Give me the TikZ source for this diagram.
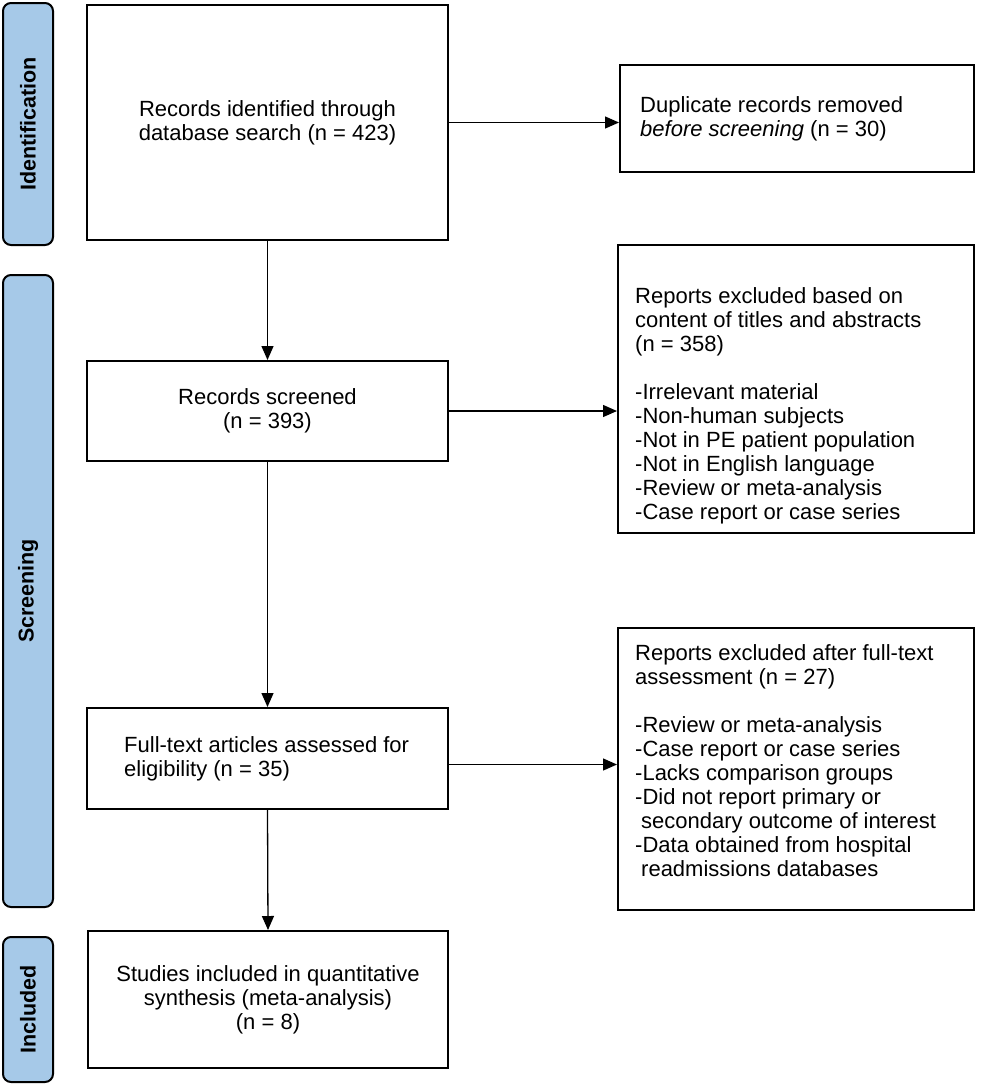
\documentclass[tikz,border=0pt]{standalone}
\usepackage{fontspec}
\setmainfont{Liberation Sans}
\usetikzlibrary{arrows.meta}
\definecolor{labelblue}{RGB}{166,201,232}
\begin{document}
\begin{tikzpicture}[x=1pt,y=-1pt,
  every node/.style={font=\fontsize{22pt}{24pt}\selectfont},
  box/.style={draw=black, line width=2pt, inner sep=0pt, align=center},
  stage/.style={draw=black, line width=2pt, fill=labelblue, rounded corners=8pt, minimum width=50pt, inner sep=0pt},
  stagetext/.style={font=\fontsize{21.5pt}{24pt}\selectfont\bfseries, rotate=90, inner sep=0pt},
  arr/.style={line width=1.3pt, -{Triangle[length=14pt,width=12pt]}},
  txt/.style={inner sep=0pt, align=left, anchor=north west}
]
\useasboundingbox (0,0) rectangle (981,1085);
\fill[white] (0,0) rectangle (981,1085);

% stage labels
\node[stage, minimum height=242pt] (id) at (28,124) {};
\node[stagetext] (idt) at (id.center) {Identification};
\node[stage, minimum height=632pt] (sc) at (28,591) {};
\node[stagetext] (sct) at (sc.center) {Screening};
\node[stage, minimum height=145pt] (inc) at (28,1009.5) {};
\node[stagetext] (inct) at (inc.center) {Included};

% main boxes
\node[box, minimum width=361pt, minimum height=235pt] (rec) at (267.5,122.5)
  {Records identified through\\database search (n = 423)};
\node[box, minimum width=354pt, minimum height=107pt] (dup) at (797,118.5) {};
\node[txt, anchor=west] (dupt) at (640,118.5)
  {Duplicate records removed\\\textit{before screening} (n = 30)};

\node[box, minimum width=361pt, minimum height=100pt] (scr) at (267.5,411)
  {Records screened\\(n = 393)};
\node[box, minimum width=356pt, minimum height=288pt] (rep1) at (796,389) {};
\node[txt] (rep1t) at (635,287)
  {Reports excluded based on\\content of titles and abstracts\\(n = 358)\\[24pt]
   -Irrelevant material\\-Non-human subjects\\-Not in PE patient population\\
   -Not in English language\\-Review or meta-analysis\\-Case report or case series};

\node[box, minimum width=361pt, minimum height=101pt] (ft) at (267.5,758.5) {};
\node[txt, anchor=west] (ftt) at (124,758.5)
  {Full-text articles assessed for\\eligibility (n = 35)};
\node[box, minimum width=356pt, minimum height=282pt] (rep2) at (796,769) {};
\node[txt] (rep2t) at (635,644)
  {Reports excluded after full-text\\assessment (n = 27)\\[24pt]
   -Review or meta-analysis\\-Case report or case series\\-Lacks comparison groups\\
   -Did not report primary or\\\hspace*{6pt}secondary outcome of interest\\
   -Data obtained from hospital\\\hspace*{6pt}readmissions databases};

\node[box, minimum width=360pt, minimum height=137pt] (stu) at (268,999.5)
  {Studies included in quantitative\\synthesis (meta-analysis)\\(n = 8)};

% connectors
\draw[arr] (rec.south) -- (scr.north);
\draw[arr] (scr.south) -- (ft.north);
\draw[arr] (ft.south) -- (stu.north);
\draw[arr] (rec.east) -- (rec.east -| dup.west);
\draw[arr] (scr.east) -- (scr.east -| rep1.west);
\draw[arr] ([yshift=-6pt]ft.east) -- ([yshift=-6pt]ft.east -| rep2.west);
\end{tikzpicture}
\end{document}
